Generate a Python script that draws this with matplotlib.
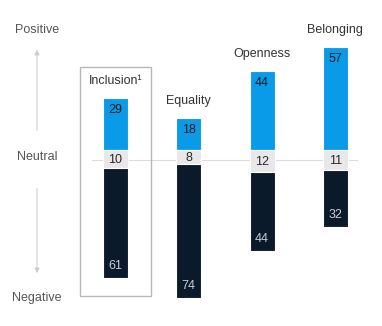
import numpy as np
import matplotlib.pyplot as plt
from matplotlib.patches import Rectangle

plt.rcParams['font.family'] = ['Liberation Sans', 'DejaVu Sans']

categories = ['Inclusion\u00b9', 'Equality', 'Openness', 'Belonging']
positive = [29, 18, 44, 57]
neutral = [10, 8, 12, 11]
negative = [61, 74, 44, 32]

blue = '#0a9be8'
grey = '#e8e8ea'
navy = '#0b1a2b'

fig = plt.figure(figsize=(3.82, 3.26), dpi=100)
ax = fig.add_axes([0, 0, 1, 1])
ax.set_xlim(-1.576, 3.636)
ax.set_ylim(-97.8, 83.3)
ax.axis('off')

x = np.arange(len(categories))
w = 0.34
pos = np.array(positive)
neu = np.array(neutral)
neg = np.array(negative)
fs = 9

# neutral reference line behind the bars
ax.plot([-0.32, 3.3], [-5.6, -5.6], color='#dcdcdc', lw=0.8, zorder=0)

ax.bar(x, pos, w, bottom=0, color=blue, edgecolor='white', lw=0.8, zorder=2)
ax.bar(x, -neu, w, bottom=0, color=grey, edgecolor='white', lw=0.8, zorder=2)
ax.bar(x, -neg, w, bottom=-neu, color=navy, edgecolor='white', lw=0.8, zorder=2)

for i in range(len(categories)):
    ax.annotate(str(pos[i]), (x[i], pos[i]), xytext=(0, -12), textcoords='offset pixels',
                ha='center', va='center', fontsize=fs, color='#1a1a1a', zorder=3)
    ax.text(x[i], -neu[i] / 2 - 0.5, str(neu[i]), ha='center', va='center',
            fontsize=fs, color='#2a2a2a', zorder=3)
    ax.annotate(str(neg[i]), (x[i], -neu[i] - neg[i]), xytext=(0, 12), textcoords='offset pixels',
                ha='center', va='center', fontsize=fs, color='#c8ccd2', zorder=3)
    ax.annotate(categories[i], (x[i], pos[i]), xytext=(0, 17), textcoords='offset pixels',
                ha='center', va='center', fontsize=fs, color='#333333')

# box around the first column
ax.add_patch(Rectangle((-0.484, -81.1), 0.968, 127.2, fill=False,
                       edgecolor='#b8b8b8', lw=1.0, zorder=1))

# direction scale on the left
ax.annotate('', xy=(-1.071, 57.2), xytext=(-1.071, 9.4),
            arrowprops=dict(arrowstyle='-|>', color='#cccccc', lw=0.8, mutation_scale=7))
ax.annotate('', xy=(-1.071, -70), xytext=(-1.071, -20),
            arrowprops=dict(arrowstyle='-|>', color='#cccccc', lw=0.8, mutation_scale=7))
ax.text(-1.071, 66.7, 'Positive', ha='center', va='center', fontsize=fs, color='#555555')
ax.text(-1.071, -3.9, 'Neutral', ha='center', va='center', fontsize=fs, color='#555555')
ax.text(-1.071, -82.2, 'Negative', ha='center', va='center', fontsize=fs, color='#555555')

fig.savefig('out.png', dpi=100)
